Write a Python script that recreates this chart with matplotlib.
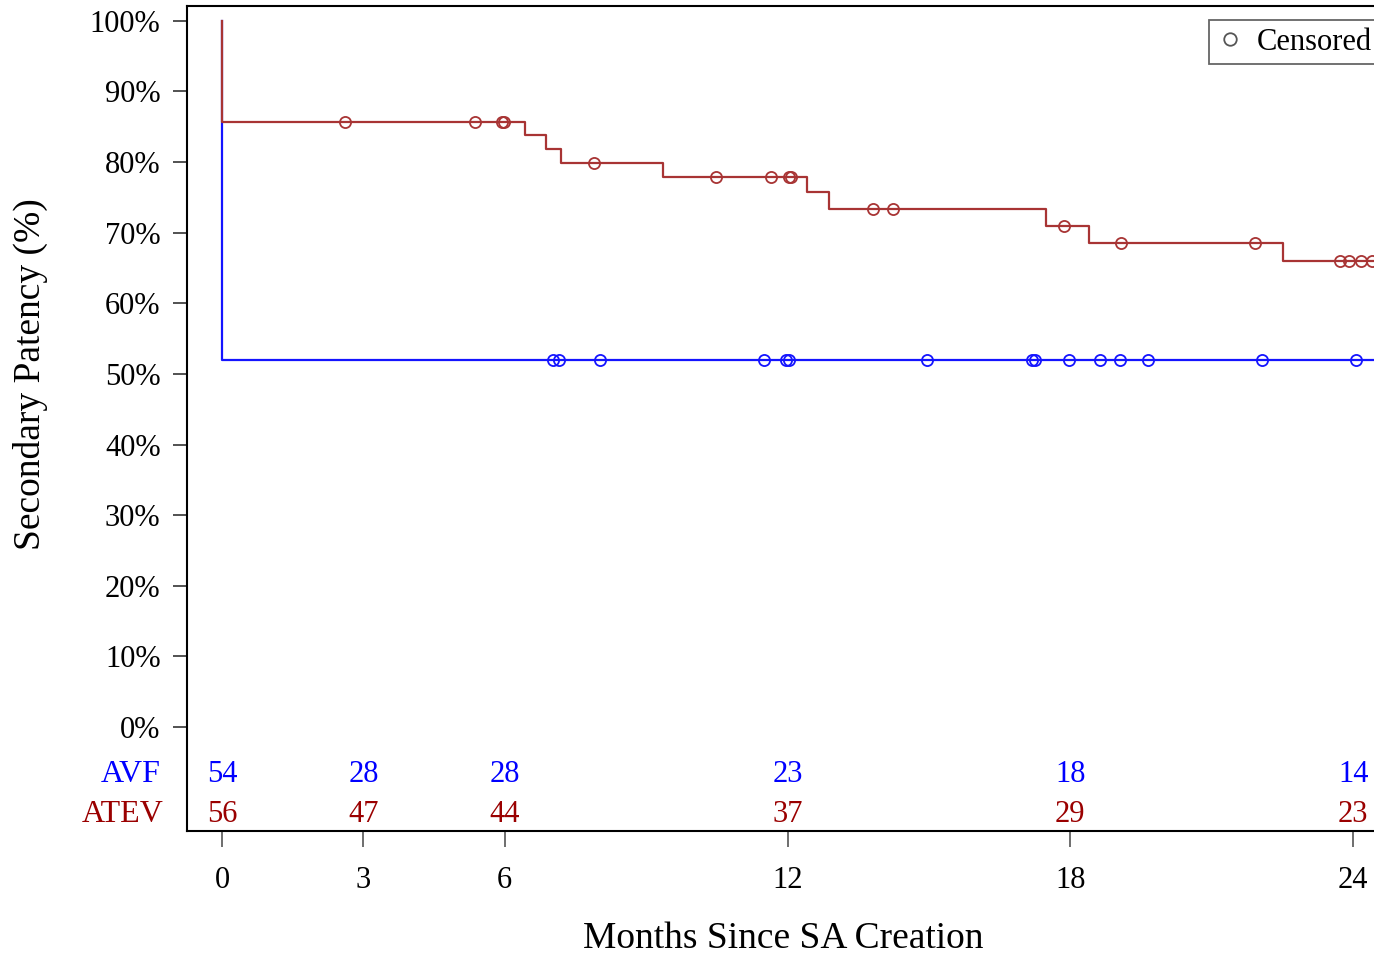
import matplotlib
matplotlib.use('Agg')
import matplotlib.pyplot as plt
import matplotlib.transforms as mtrans
from matplotlib.lines import Line2D
import numpy as np

plt.rcParams['font.family'] = ['Liberation Serif', 'DejaVu Serif']

RED = '#A83434'
RED_TXT = '#9A0000'
BLUE = '#1414FF'
BLUE_TXT = '#0000FF'

# ATEV step function (months, survival %)
atev_step_t = [0, 6.43, 6.88, 7.19, 9.36, 12.41, 12.88, 17.49, 18.40, 22.51]
atev_step_s = [85.7, 83.8, 81.8, 79.9, 77.9, 75.7, 73.4, 71.0, 68.6, 66.0]
atev_cens = [2.61, 5.37, 5.94, 5.98, 7.89, 10.48, 11.65, 12.03, 12.07,
             13.81, 14.24, 17.87, 19.08, 21.92, 23.72, 23.92, 24.17, 24.40]

# AVF step function
avf_step_t = [0]
avf_step_s = [51.9]
avf_cens = [7.02, 7.15, 8.02, 11.50, 11.97, 12.03, 14.96, 17.19, 17.25,
            17.97, 18.63, 19.06, 19.65, 22.07, 24.06]

# numbers at risk
risk_times = [0, 3, 6, 12, 18, 24]
avf_risk = [54, 28, 28, 23, 18, 14]
atev_risk = [56, 47, 44, 37, 29, 23]

W, H = 1374, 956
fig = plt.figure(figsize=(W / 100, H / 100), dpi=100)
fig.patch.set_facecolor('white')

L, R, T, B = 187, 1380, 6, 831
ax = fig.add_axes([L / W, 1 - B / H, (R - L) / W, (B - T) / H])
ax.set_xlim(-0.743, 24.57)
ax.set_ylim(-14.73, 102.1)


def level(step_t, step_s, t):
    i = np.searchsorted(step_t, t, side='right') - 1
    return np.array(step_s)[i]


def draw_curve(step_t, step_s, cens, color, end=24.6):
    xs = [0] + list(step_t) + [end]
    ys = [100] + list(step_s) + [step_s[-1]]
    ax.plot(xs, ys, drawstyle='steps-post', color=color, lw=1.6, zorder=3)
    ax.plot(cens, level(step_t, step_s, cens), 'o', mfc='none', mec=color,
            ms=8, mew=1.3, zorder=4)


draw_curve(avf_step_t, avf_step_s, avf_cens, BLUE)
draw_curve(atev_step_t, atev_step_s, atev_cens, RED)

# axes styling
for s in ax.spines.values():
    s.set_linewidth(1.5)
    s.set_color('black')

ax.set_yticks(range(0, 101, 10))
ax.set_yticklabels([f'{v}%' for v in range(0, 101, 10)])
ax.tick_params(axis='y', length=10, width=1.2, color='#333333', pad=9,
               labelsize=22)
ax.set_xticks(risk_times)
ax.tick_params(axis='x', length=11.5, width=1.2, color='#555555', pad=14,
               labelsize=22)

ax.set_xlabel('Months Since SA Creation', fontsize=27, labelpad=19)
blend = mtrans.blended_transform_factory(ax.transAxes, ax.transData)
ax.text(-0.131, 50, 'Secondary Patency (%)', rotation=90, fontsize=27,
        ha='center', va='center', transform=blend)

# numbers at risk inside the box
for t, a, b in zip(risk_times, avf_risk, atev_risk):
    ax.text(t, -6.7, str(a), color=BLUE_TXT, fontsize=22, ha='center', va='center')
    ax.text(t, -12.4, str(b), color=RED_TXT, fontsize=22, ha='center', va='center')
ax.text(-0.022, -6.7, 'AVF', color=BLUE_TXT, fontsize=23, ha='right',
        va='center', transform=blend)
ax.text(-0.020, -12.4, 'ATEV', color=RED_TXT, fontsize=23, ha='right',
        va='center', transform=blend)

# legend
handle = Line2D([], [], marker='o', ls='none', mfc='none', mec='#555555',
                ms=9, mew=1.3)
leg = ax.legend([handle], ['Censored'], loc='upper left',
                bbox_to_anchor=(1209 / W, 1 - 20 / H),
                bbox_transform=fig.transFigure, fontsize=22, fancybox=False,
                edgecolor='#666666', framealpha=1, borderpad=0.25,
                handletextpad=0.4, handlelength=0.9, borderaxespad=0)
leg.get_frame().set_linewidth(1.3)

fig.savefig('out.png', dpi=100, facecolor='white')
